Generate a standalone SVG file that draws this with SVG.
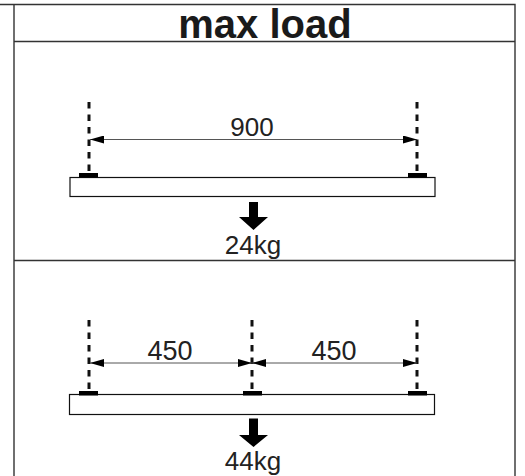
<svg xmlns="http://www.w3.org/2000/svg" width="525" height="476" viewBox="0 0 525 476">
<defs>
<marker id="ah" viewBox="0 0 14 8" refX="14" refY="4" markerWidth="14" markerHeight="8" markerUnits="userSpaceOnUse" orient="auto-start-reverse"><path d="M0 0L14 4L0 8Z" fill="#000"/></marker>
</defs>
<style>
.f{stroke:#333;fill:none;stroke-width:1.4}
.b{stroke:#111;fill:#fff;stroke-width:1.2}
.d{stroke:#111;stroke-width:3;stroke-dasharray:6.500 6;fill:none}
.dim{stroke:#555;stroke-width:1;fill:none;marker-start:url(#ah);marker-end:url(#ah)}
.p{fill:#000}
text{font-family:"Liberation Sans",Arial,sans-serif;fill:#222}
.t{font-size:26px;text-anchor:middle}
.n{font-size:27px;text-anchor:middle}
</style>
<rect width="525" height="476" fill="#fff"/>
<g id="frame">
<path class="f" d="M0 4.500H515V476M14 4.500V476M14 41.500H515M14 260.500H515"/>
</g>
<g id="title"><text x="265" y="37.500" text-anchor="middle" style="font-size:40px;font-weight:bold;fill:#1a1a1a">max load</text></g>
<g id="beam1">
<rect class="b" x="70" y="177.500" width="365" height="19"/>
<rect class="p" x="79" y="173" width="19" height="4.500"/>
<rect class="p" x="408" y="173" width="19" height="4.500"/>
<path class="p" d="M249 202H258V217H268L253.500 230L239 217H249Z"/>
<text class="t" x="253" y="254">24kg</text>
</g>
<g id="beam2">
<rect class="b" x="69.500" y="394.500" width="365" height="20"/>
<rect class="p" x="79" y="391" width="19" height="4.500"/>
<rect class="p" x="243" y="391" width="19" height="4.500"/>
<rect class="p" x="408" y="391" width="19" height="4.500"/>
<path class="p" d="M249 418.500H258V435H268L253.500 447L239 435H249Z"/>
<text class="t" x="253" y="470">44kg</text>
</g>
<g id="connectors">
<path class="d" d="M89 102V173"/>
<path class="d" d="M417 102V173"/>
<path class="dim" d="M90 139.500H417"/>
<path class="d" d="M89 320V391"/>
<path class="d" d="M252 320V391"/>
<path class="d" d="M417 320V391"/>
<path class="dim" d="M90 363H252"/>
<path class="dim" d="M252 363H417"/>
</g>
<g id="labels">
<text class="t" x="252" y="136">900</text>
<text class="n" x="170" y="360">450</text>
<text class="n" x="334" y="360">450</text>
</g>
</svg>
